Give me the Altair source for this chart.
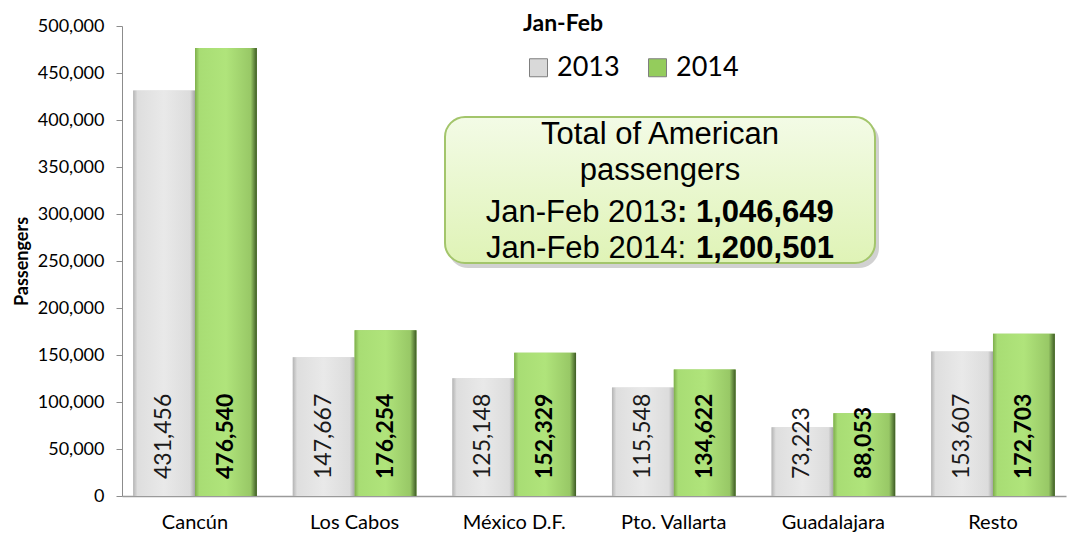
import altair as alt
import pandas as pd

destinations = ["Cancún", "Los Cabos", "México D.F.", "Pto. Vallarta", "Guadalajara", "Resto"]
years = ["2013", "2014"]
pax_2013 = [431456, 147667, 125148, 115548, 73223, 153607]
pax_2014 = [476540, 176254, 152329, 134622, 88053, 172703]
y_ticks = list(range(0, 500001, 50000))
chart_title = "Jan-Feb"
y_title = "Passengers"
box_line1 = "Total of American"
box_line2 = "passengers"
box_line3 = ["Jan-Feb 2013", ": 1,046,649"]
box_line4 = ["Jan-Feb 2014:", "1,200,501"]

rows = []
for d, a, b in zip(destinations, pax_2013, pax_2014):
    rows.append({"dest": d, "year": "2013", "pax": a})
    rows.append({"dest": d, "year": "2014", "pax": b})
df = pd.DataFrame(rows)
one = pd.DataFrame({"k": [0]})

W, H = 944, 470
FONT = "Lato"

x_enc = alt.X(
    "dest:N", sort=destinations,
    scale=alt.Scale(paddingInner=0.225, paddingOuter=0.07),
    axis=alt.Axis(title=None, labelAngle=0, ticks=False, domainColor="#9a9a9a",
                  domainWidth=1.5, labelFont=FONT, labelFontSize=20,
                  labelColor="#000000", labelPadding=16),
)
xo_enc = alt.XOffset("year:N", sort=years)
y_enc = alt.Y(
    "pax:Q", scale=alt.Scale(domain=[0, 500000], nice=False),
    axis=alt.Axis(values=y_ticks, format=",d", grid=False, domainColor="#8c8c8c",
                  tickColor="#8c8c8c", tickSize=6, labelFont=FONT, labelFontSize=18,
                  labelColor="#000000", labelPadding=12, title=y_title,
                  titleFont=FONT, titleFontSize=18, titleFontWeight="bold",
                  titleColor="#000000", titlePadding=6),
)

grad13 = alt.Gradient(
    gradient="linear", x1=0, x2=1, y1=0, y2=0,
    stops=[alt.GradientStop(color="#b4b4b4", offset=0),
           alt.GradientStop(color="#dedede", offset=0.07),
           alt.GradientStop(color="#e9e9e9", offset=0.5),
           alt.GradientStop(color="#dcdcdc", offset=0.92),
           alt.GradientStop(color="#a6a6a6", offset=1)])
grad14 = alt.Gradient(
    gradient="linear", x1=0, x2=1, y1=0, y2=0,
    stops=[alt.GradientStop(color="#7eae4c", offset=0),
           alt.GradientStop(color="#a8dd74", offset=0.07),
           alt.GradientStop(color="#b0e47b", offset=0.5),
           alt.GradientStop(color="#98c866", offset=0.9),
           alt.GradientStop(color="#3d5a24", offset=1)])

base = alt.Chart(df)

solid = base.mark_bar().encode(
    x=x_enc, xOffset=xo_enc, y=y_enc,
    color=alt.Color("year:N", sort=years,
                    scale=alt.Scale(domain=years, range=["#d9d9d9", "#94cc5c"]),
                    legend=alt.Legend(title=None, orient="none", legendX=403, legendY=28,
                                      direction="horizontal", symbolType="square",
                                      symbolSize=324, symbolStrokeColor="#7f7f7f",
                                      symbolStrokeWidth=1, labelFont=FONT,
                                      labelFontSize=27, labelColor="#000000",
                                      labelOffset=5, columnPadding=24, padding=0)),
)
bars13 = base.transform_filter(alt.datum.year == "2013").mark_bar(color=grad13).encode(
    x=x_enc, xOffset=xo_enc, y=y_enc)
bars14 = base.transform_filter(alt.datum.year == "2014").mark_bar(color=grad14).encode(
    x=x_enc, xOffset=xo_enc, y=y_enc)

lab13 = base.transform_filter(alt.datum.year == "2013").mark_text(
    angle=270, align="left", baseline="middle", dx=17, font=FONT, fontSize=23,
    color="#1a1a1a").encode(x=x_enc, xOffset=xo_enc, y=alt.datum(0),
                            text=alt.Text("pax:Q", format=",d"))
lab14 = base.transform_filter(alt.datum.year == "2014").mark_text(
    angle=270, align="left", baseline="middle", dx=17, font=FONT, fontSize=23,
    fontWeight="bold", color="#000000").encode(x=x_enc, xOffset=xo_enc, y=alt.datum(0),
                                               text=alt.Text("pax:Q", format=",d"))

ann = alt.Chart(one)
title_mark = ann.mark_text(text=chart_title, font=FONT, fontSize=23, fontWeight="bold",
                           align="center", baseline="alphabetic", color="#000000").encode(
    x=alt.value(441), y=alt.value(5))

shadow = ann.mark_rect(cornerRadius=20, color="#000000", opacity=0.18).encode(
    x=alt.value(326), x2=alt.value(757), y=alt.value(95), y2=alt.value(242))
box_grad = alt.Gradient(
    gradient="linear", x1=0, x2=0, y1=0, y2=1,
    stops=[alt.GradientStop(color="#f3fbe6", offset=0),
           alt.GradientStop(color="#dff3b6", offset=1)])
box = ann.mark_rect(cornerRadius=20, color=box_grad, stroke="#a3c56b", strokeWidth=2).encode(
    x=alt.value(323), x2=alt.value(753), y=alt.value(91), y2=alt.value(237))

BF = "Liberation Sans"
BS = 31
t1 = ann.mark_text(text=box_line1, font=BF, fontSize=BS, align="center",
                   baseline="alphabetic", color="#000000").encode(x=alt.value(538), y=alt.value(118))
t2 = ann.mark_text(text=box_line2, font=BF, fontSize=BS, align="center",
                   baseline="alphabetic", color="#000000").encode(x=alt.value(538), y=alt.value(154))
t3a = ann.mark_text(text=box_line3[0], font=BF, fontSize=BS, align="right",
                    baseline="alphabetic", color="#000000").encode(x=alt.value(555), y=alt.value(196))
t3b = ann.mark_text(text=box_line3[1], font=BF, fontSize=BS, fontWeight="bold", align="left",
                    baseline="alphabetic", color="#000000").encode(x=alt.value(555), y=alt.value(196))
t4a = ann.mark_text(text=box_line4[0], font=BF, fontSize=BS, align="right",
                    baseline="alphabetic", color="#000000").encode(x=alt.value(564), y=alt.value(232))
t4b = ann.mark_text(text=box_line4[1], font=BF, fontSize=BS, fontWeight="bold", align="left",
                    baseline="alphabetic", color="#000000").encode(x=alt.value(574), y=alt.value(232))

chart = alt.layer(
    solid, bars13, bars14, lab13, lab14, title_mark, shadow, box, t1, t2, t3a, t3b, t4a, t4b
).properties(
    width=W, height=H,
    autosize=alt.AutoSizeParams(type="none"),
    padding={"left": 114, "top": 18, "right": 2, "bottom": 36},
    background="#ffffff",
).configure_view(stroke=None)

chart.save("out.html", embed_options={"renderer": "svg", "actions": False})
